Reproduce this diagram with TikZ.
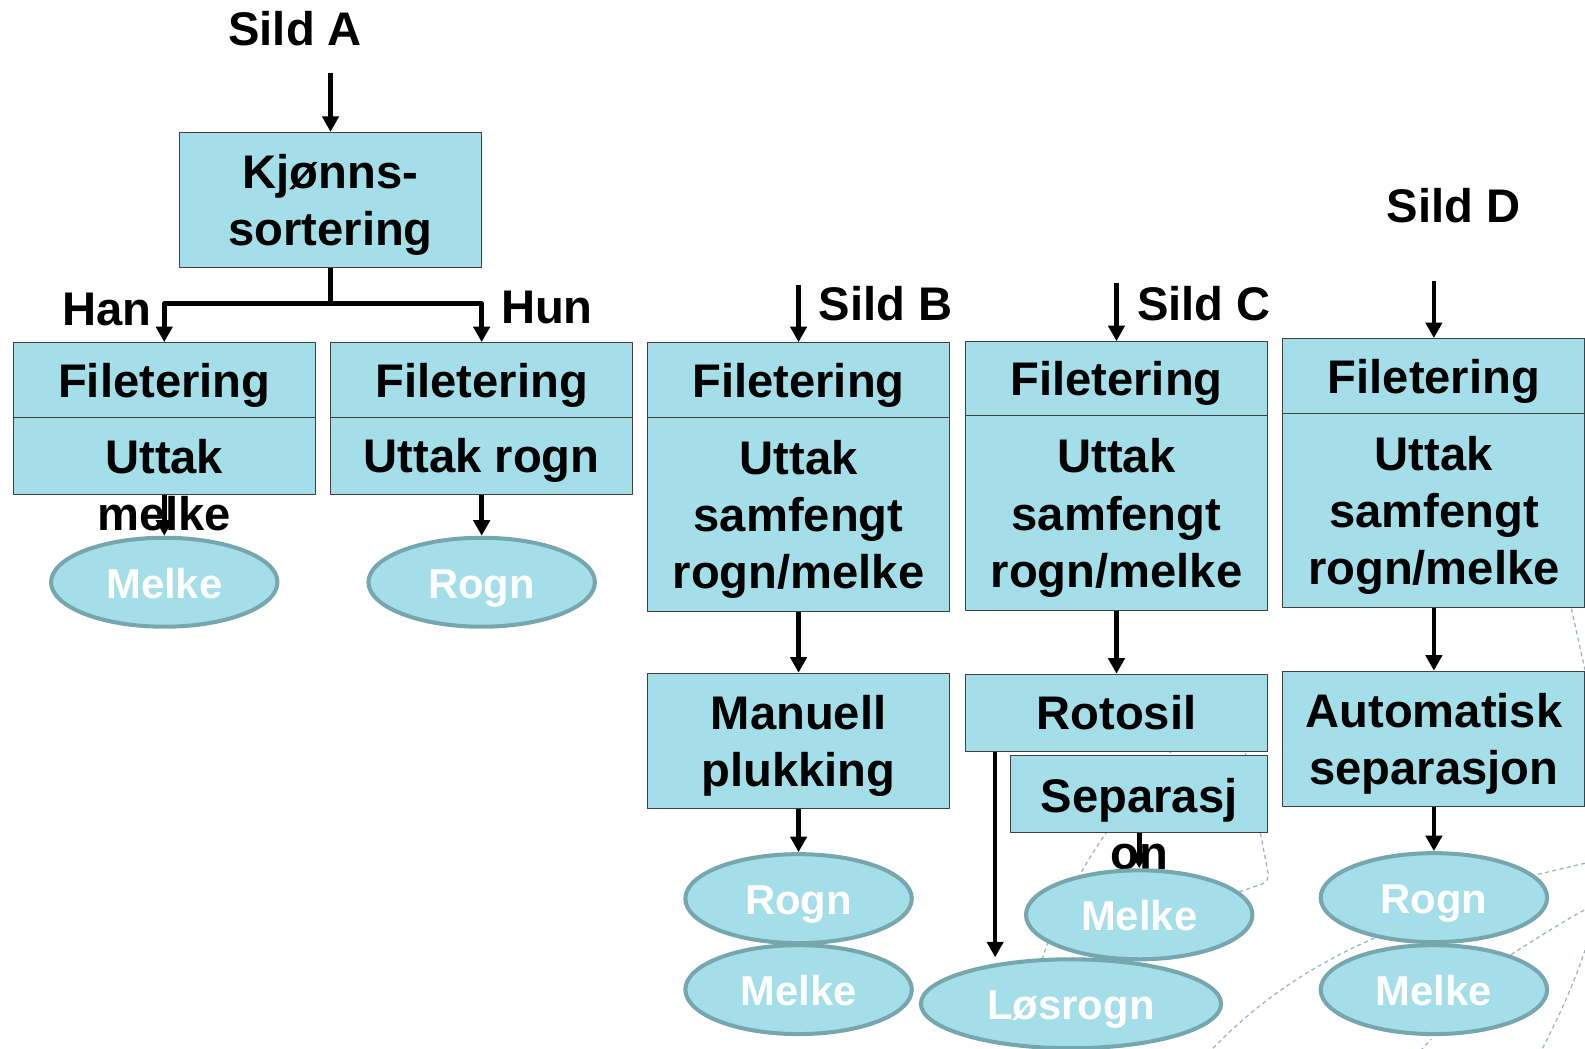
\documentclass[tikz,border=0pt]{standalone}
\usepackage{xcolor}
\usepackage{fontspec}
\setmainfont{Liberation Sans}
\usepackage{tikz}
\usetikzlibrary{calc}
\usetikzlibrary{arrows.meta}
\usetikzlibrary{shapes.geometric}
\definecolor{aaddee}{rgb}{0.643,0.871,0.910}
\definecolor{wwaaaa}{rgb}{0.463,0.651,0.682}
\definecolor{bbccdd}{rgb}{0.60,0.69,0.78}
\tikzstyle{every node}=[font=\bfseries\fontsize{35}{42.5}\selectfont]
\tikzstyle{boks}=[draw=black!75,line width=0.8pt,fill=aaddee,align=center,inner sep=0pt,minimum width=224.25pt,text depth=0pt]
\tikzstyle{ellipsen}=[ellipse,draw=wwaaaa,line width=3pt,fill=aaddee,text=white,font=\bfseries\fontsize{31}{37}\selectfont,minimum width=168pt,minimum height=66pt,inner sep=0pt,text height=26pt,text depth=2pt]
\tikzstyle{tekst}=[align=center,inner sep=0pt]
\tikzstyle{pil}=[->,line width=3.4pt]
\tikzstyle{bakgrunn}=[color=bbccdd,line width=0.9pt,dash pattern=on 3pt off 2.5pt]

\begin{document}
\begin{tikzpicture}[line join=round,>={Triangle[width=12pt,length=11.5pt]},x=0.75pt,y=-0.75pt]
            \clip(0.,0.) rectangle (1568.,1037.);
            % bakgrunn
            \draw [bakgrunn] (1160.,742.) .. controls (1095.,815.) and (1030.,900.) .. (1010.,1037.);
            \draw [bakgrunn,rounded corners=6pt] (1232.,745.) -- (1256.,872.) -- (1215.,886.);
            \draw [bakgrunn] (1200.,1037.) .. controls (1260.,975.) and (1330.,935.) .. (1420.,905.);
            \draw [bakgrunn] (1470.,960.) .. controls (1510.,935.) and (1540.,915.) .. (1568.,900.);
            \draw [bakgrunn] (1500.,870.) -- (1568.,854.);
            \draw [bakgrunn] (1553.,595.) -- (1568.,663.);
            \draw [bakgrunn] (1526.,1037.) .. controls (1545.,1000.) and (1558.,970.) .. (1568.,940.);
            \draw [bakgrunn] (1400.,1045.) -- (1416.,1028.);
            % Sild A
            \node (sildA) at (292.,28.) {Sild A};
            \coordinate (innA) at (327.,72.);
            \node [boks,minimum height=100.5pt] (kjonn) at (327.,198.) {Kjønns-\\sortering};
            \node (han) at (106.,306.) {Han};
            \node (hun) at (541.,304.) {Hun};
            \node [boks,minimum height=55.5pt] (filHan) at (162.5,376.) {Filetering};
            \node [boks,minimum height=57pt] (uttHan) at (162.5,451.) {};
            \node [tekst] (uttHanTekst) at (162.5,480.) {Uttak\\melke};
            \node [boks,minimum height=55.5pt] (filHun) at (476.5,376.) {Filetering};
            \node [boks,minimum height=57pt] (uttHun) at (476.5,451.) {Uttak rogn};
            \node [ellipsen] (melkeA) at (162.5,576.) {Melke};
            \node [ellipsen] (rognA) at (476.5,576.) {Rogn};
            \draw [pil] (innA) -- (kjonn.north);
            \draw [pil] (kjonn.south) -- ++(0.,35.) -| (filHan.north);
            \draw [pil] (kjonn.south) -- ++(0.,35.) -| (filHun.north);
            \draw [pil] (uttHan.south) -- (melkeA.north);
            \draw [pil] (uttHun.south) -- (rognA.north);
            % Sild B
            \coordinate (innB) at (790.,282.);
            \node (sildB) at (876.,300.) {Sild B};
            \node [boks,minimum height=55.5pt] (filB) at (790.,376.) {Filetering};
            \node [boks,minimum height=144pt] (uttB) at (790.,509.) {Uttak\\samfengt\\rogn/melke};
            \node [boks,minimum height=100.5pt] (manuell) at (790.,733.) {Manuell\\plukking};
            \node [ellipsen] (rognB) at (790.,889.) {Rogn};
            \node [ellipsen] (melkeB) at (790.,979.) {Melke};
            \draw [pil] (innB) -- (filB.north);
            \draw [pil] (uttB.south) -- (manuell.north);
            \draw [pil] (manuell.south) -- (rognB.north);
            % Sild C
            \coordinate (innC) at (1104.5,280.);
            \node (sildC) at (1191.,300.) {Sild C};
            \node [boks,minimum height=54.75pt] (filC) at (1104.5,374.5) {Filetering};
            \node [boks,minimum height=144.75pt] (uttC) at (1104.5,507.5) {Uttak\\samfengt\\rogn/melke};
            \node [boks,minimum height=57pt] (rotosil) at (1104.5,705.) {Rotosil};
            \node [boks,minimum width=190.5pt,minimum height=57.75pt] (sep) at (1127.,785.5) {};
            \node [tekst] (sepTekst) at (1127.,815.) {Separasj\\on};
            \node [ellipsen] (melkeC) at (1127.,905.) {Melke};
            \node [ellipsen,minimum width=222.75pt] (losrogn) at (1059.5,993.) {Løsrogn};
            \draw [pil] (innC) -- (filC.north);
            \draw [pil] (uttC.south) -- (rotosil.north);
            \draw [pil] (sep.south) -- (melkeC.north);
            \draw [pil] ($(rotosil.south west)+(30.,0.)$) coordinate (rotoUt) -- (rotoUt |- losrogn.north);
            % Sild D
            \node (sildD) at (1438.,203.) {Sild D};
            \coordinate (innD) at (1418.5,278.);
            \node [boks,minimum height=55.5pt] (filD) at (1418.5,372.) {Filetering};
            \node [boks,minimum height=144pt] (uttD) at (1418.5,505.) {Uttak\\samfengt\\rogn/melke};
            \node [boks,minimum height=100.5pt] (auto) at (1418.5,731.) {Automatisk\\separasjon};
            \node [ellipsen] (rognD) at (1418.5,888.) {Rogn};
            \node [ellipsen] (melkeD) at (1418.5,979.) {Melke};
            \draw [pil] (innD) -- (filD.north);
            \draw [pil] (uttD.south) -- (auto.north);
            \draw [pil] (auto.south) -- (rognD.north);
\end{tikzpicture}
\end{document}
